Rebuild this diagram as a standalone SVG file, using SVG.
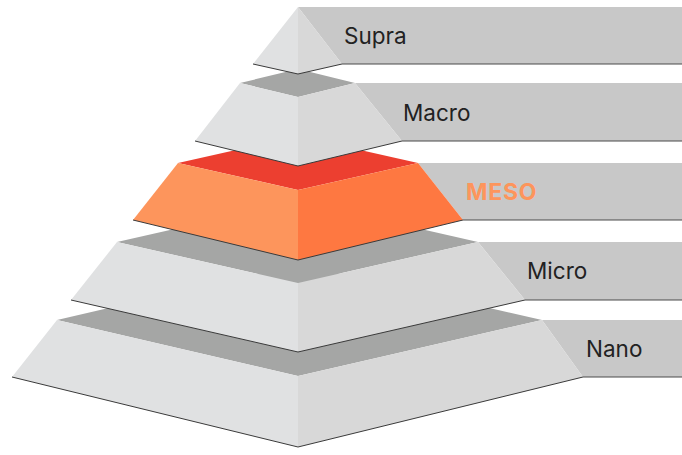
<svg xmlns="http://www.w3.org/2000/svg" width="682" height="455" viewBox="0 0 682 455">
<style>
.box{fill:#c8c8c8}
.edge{fill:none;stroke:#3a3a3a;stroke-width:1}
.boxline{fill:none;stroke:#4a4a4a;stroke-width:1}
.gl{fill:#e0e1e2}
.gr{fill:#d8d8d8}
.gt{fill:#a5a6a5}
.ol{fill:#fd955c}
.or{fill:#fe7841}
.ot{fill:#ec3f30}
.lbl{font-family:Inter,"Liberation Sans",sans-serif;font-size:22.5px;fill:#222}
.meso{font-family:Inter,"Liberation Sans",sans-serif;font-size:23px;font-weight:bold;letter-spacing:0.8px;fill:#fd955c}
</style>
<rect width="682" height="455" fill="#ffffff"/>
<g id="connectors"/>
<g id="nano">
<polygon class="box" points="542,320 682,320 682,377 583,377"/>
<line class="boxline" x1="583" y1="377" x2="682" y2="377"/>
<polygon class="gt" points="57,320 298,264 542,320 298,376"/>
<polygon class="gl" points="57,320 298,376 298,447 12,377"/>
<polygon class="gr" points="298,376 542,320 583,377 298,447"/>
<polyline class="edge" points="12,377 298,447 583,377"/>
<text class="lbl" x="586" y="357">Nano</text>
</g>
<g id="micro">
<polygon class="box" points="478,242 682,242 682,300 525,300"/>
<line class="boxline" x1="525" y1="300" x2="682" y2="300"/>
<polygon class="gt" points="117,242 298,201 478,242 298,283"/>
<polygon class="gl" points="117,242 298,283 298,352 71,300"/>
<polygon class="gr" points="298,283 478,242 525,300 298,352"/>
<polyline class="edge" points="71,300 298,352 525,300"/>
<text class="lbl" x="527" y="279">Micro</text>
</g>
<g id="meso">
<polygon class="box" points="418,163 682,163 682,220 463,220"/>
<line class="boxline" x1="463" y1="220" x2="682" y2="220"/>
<polygon class="ot" points="178,163 298,136 418,163 298,190"/>
<polygon class="ol" points="178,163 298,190 298,260 133,220"/>
<polygon class="or" points="298,190 418,163 463,220 298,260"/>
<polyline class="edge" points="133,220 298,260 463,220"/>
<text class="meso" x="466" y="200">MESO</text>
</g>
<g id="macro">
<polygon class="box" points="355,83 682,83 682,141 402,141"/>
<line class="boxline" x1="402" y1="141" x2="682" y2="141"/>
<polygon class="gt" points="240,83 298,69 355,83 298,97"/>
<polygon class="gl" points="240,83 298,97 298,166 195,141"/>
<polygon class="gr" points="298,97 355,83 402,141 298,166"/>
<polyline class="edge" points="195,141 298,166 402,141"/>
<text class="lbl" x="403" y="121">Macro</text>
</g>
<g id="supra">
<polygon class="box" points="298,7 682,7 682,64 342,64"/>
<line class="boxline" x1="342" y1="64" x2="682" y2="64"/>
<polygon class="gl" points="298,7 298,74 253,64"/>
<polygon class="gr" points="298,7 342,64 298,74"/>
<polyline class="edge" points="253,64 298,74 342,64"/>
<text class="lbl" x="344" y="44">Supra</text>
</g>
</svg>
